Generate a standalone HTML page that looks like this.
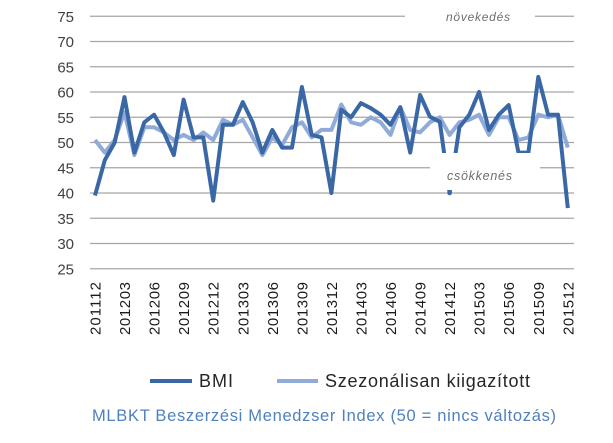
<!DOCTYPE html>
<html><head><meta charset="utf-8"><style>
body{margin:0;background:#fff;width:613px;height:443px;overflow:hidden}
svg{display:block;font-family:"Liberation Sans",sans-serif}
</style></head><body>
<svg id="s" width="613" height="443" viewBox="0 0 613 443">
<g id="grid" stroke="#a6a6a6" stroke-width="1.3"></g>
<g id="ylab" font-size="15" fill="#404040" text-anchor="end"></g>
<g id="xlab" font-size="15" fill="#1a1a1a"></g>
<polyline id="light" fill="none" stroke="#91abd9" stroke-width="4" stroke-linejoin="round"/>
<g id="dark" fill="none" stroke="#3a68a6" stroke-width="4" stroke-linejoin="round"></g>
<rect x="430" y="153" width="110" height="37" fill="#fff"/>
<rect x="405" y="8" width="130" height="16" fill="#fff"/>
<text x="446" y="21" font-size="12" font-style="italic" fill="#6d6d6d" textLength="64">növekedés</text>
<text x="447" y="180" font-size="12.5" font-style="italic" fill="#6d6d6d" textLength="65">csökkenés</text>
<circle cx="449.6" cy="193" r="2.3" fill="#3a68a6"/>
<line x1="150" y1="381" x2="192" y2="381" stroke="#3a68a6" stroke-width="4"/>
<text x="199" y="387" font-size="18" fill="#262626" textLength="34">BMI</text>
<line x1="277" y1="381" x2="318" y2="381" stroke="#91abd9" stroke-width="4"/>
<text x="325" y="387" font-size="18" fill="#262626" textLength="205">Szezonálisan kiigazított</text>
<text x="92" y="421" font-size="16.5" fill="#4f81bd" textLength="464">MLBKT Beszerzési Menedzser Index (50 = nincs változás)</text>
</svg>
<script>
var ns="http://www.w3.org/2000/svg";
function Y(v){return 142.5-(v-50)*5.05}
function X(i){return 95+i*9.85}
var g=document.getElementById("grid"),yl=document.getElementById("ylab"),xl=document.getElementById("xlab");
for(var v=25;v<=75;v+=5){var l=document.createElementNS(ns,"line");l.setAttribute("x1",90);l.setAttribute("x2",574);l.setAttribute("y1",Y(v));l.setAttribute("y2",Y(v));g.appendChild(l);
var t=document.createElementNS(ns,"text");t.setAttribute("x",74);t.setAttribute("y",Y(v)+5.5);t.textContent=v;yl.appendChild(t);}
var labs=["201112","201203","201206","201209","201212","201303","201306","201309","201312","201403","201406","201409","201412","201503","201506","201509","201512"];
labs.forEach(function(s,k){var t=document.createElementNS(ns,"text");var x=X(k*3)+5.5;t.setAttribute("transform","translate("+x+",335) rotate(-90)");t.setAttribute("textLength","53");t.textContent=s;xl.appendChild(t);});
var bmi=[39.5,46.5,50,59,48,54,55.5,52,47.5,58.5,51,51,38.5,53.5,53.5,58,54,48,52.5,49,49,61,51.5,51,40,56.5,55,57.8,56.8,55.5,53.5,57,48,59.4,55.1,54.1,40,53,55.5,60,52.5,55.5,57.4,48,48,63,55.5,55.5,37];
var sa=[50.5,48,50.5,56,47.5,53,53,52,50.5,51.5,50.5,52,50.5,54.5,53.5,54.5,51,47.5,51,49.5,53,54,51,52.5,52.5,57.5,54,53.5,55,54,51.5,57,52.5,52,54,55,51.5,54,54.5,55.5,51.5,55,55,50.5,51,55.5,55,55.5,49];
function pts(a){return a.map(function(v,i){return X(i).toFixed(1)+","+Y(v).toFixed(1)}).join(" ")}
document.getElementById("light").setAttribute("points",pts(sa));
var d=document.createElementNS(ns,"polyline");d.setAttribute("points",pts(bmi));document.getElementById("dark").appendChild(d);
</script>
</body></html>
